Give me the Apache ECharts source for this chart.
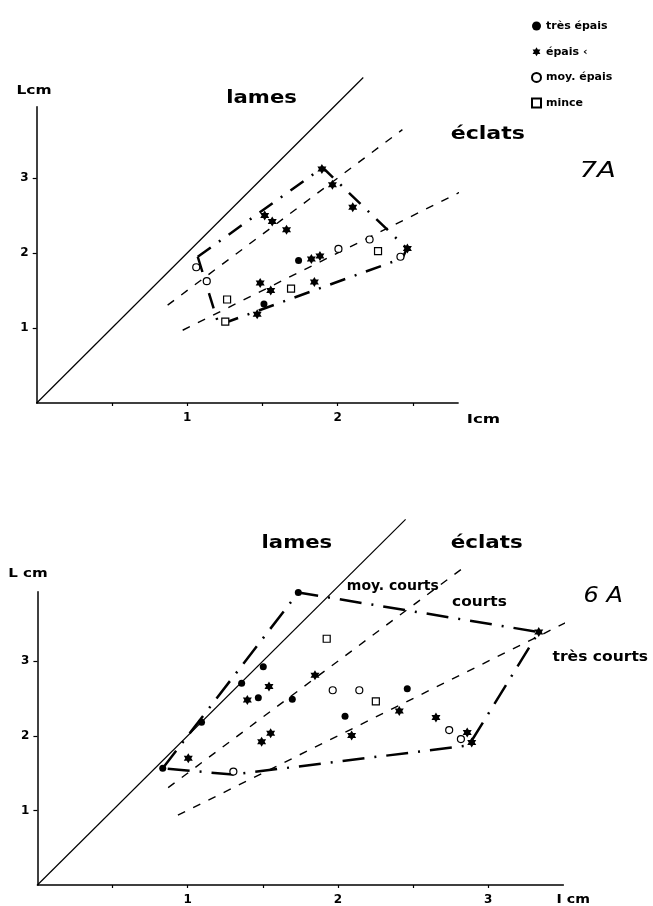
<!DOCTYPE html>
<html>
<head>
<meta charset="utf-8">
<script src="https://cdn.jsdelivr.net/npm/echarts@6/dist/echarts.min.js"></script>
<style>
  html, body { margin: 0; padding: 0; background: #fff; }
  #chart { width: 653px; height: 906px; }
</style>
</head>
<body>
<div id="chart"></div>
<script>
// classes d'epaisseur (legende)
const classNames = ['très épais', 'épais ‹', 'moy. épais', 'mince'];

// 7A : l (cm) / L (cm)
const veryThick7A = [[1.74, 1.90], [1.51, 1.32]];
const thick7A = [
  [1.895, 3.12], [1.965, 2.91], [2.10, 2.61], [2.463, 2.06], [1.515, 2.50],
  [1.565, 2.42], [1.66, 2.31], [1.825, 1.92], [1.882, 1.96], [1.485, 1.60],
  [1.555, 1.50], [1.845, 1.615], [1.465, 1.185],
];
const medium7A = [[1.06, 1.81], [1.13, 1.625], [2.005, 2.055], [2.212, 2.18], [2.417, 1.95]];
const thin7A = [[1.265, 1.38], [1.253, 1.085], [1.69, 1.525], [2.268, 2.025]];
const blades7A = [[0, 0], [2.17, 4.34]];
const ratio15_7A = [[0.87, 1.305], [2.43, 3.645]];
const ratio1_7A = [[0.97, 0.97], [2.89, 2.89]];
const envelope7A = [[1.07, 1.95], [1.90, 3.14], [2.46, 2.06], [2.43, 1.93], [1.21, 1.04], [1.07, 1.95]];

// 6A
const veryThick6A = [
  [1.736, 3.92], [1.503, 2.925], [1.359, 2.703], [1.47, 2.51], [1.696, 2.49],
  [1.092, 2.18], [0.834, 1.565], [2.047, 2.26], [2.461, 2.63],
];
const thick6A = [
  [3.336, 3.39], [1.847, 2.81], [1.541, 2.66], [1.397, 2.48], [2.408, 2.333],
  [2.652, 2.245], [1.552, 2.033], [1.492, 1.92], [2.091, 2.005], [2.86, 2.045],
  [2.89, 1.91], [1.004, 1.70],
];
const medium6A = [[1.965, 2.61], [2.142, 2.61], [2.74, 2.076], [2.818, 1.956], [1.304, 1.52]];
const thin6A = [[1.925, 3.30], [2.252, 2.46]];
const blades6A = [[0, 0], [2.45, 4.9]];
const ratio15_6A = [[0.87, 1.305], [2.82, 4.23]];
const ratio1_6A = [[0.935, 0.935], [3.54, 3.54]];
const envelope6A = [[0.834, 1.565], [1.736, 3.92], [3.336, 3.39], [2.87, 1.87], [1.30, 1.48], [0.834, 1.565]];

// graduations
const xTicks7A = [0.5, 1, 1.5, 2, 2.5];
const xLabels7A = [1, 2];
const xTicks6A = [0.5, 1, 1.5, 2, 2.5, 3];
const xLabels6A = [1, 2, 3];
const yTicks = [1, 2, 3];

const FONT = 'DejaVu Sans';
const INK = '#000';
const STAR = 'path://M0,-10L2.9,-5L8.66,-5L5.8,0L8.66,5L2.9,5L0,10L-2.9,5L-8.66,5L-5.8,0L-8.66,-5L-2.9,-5Z';

const markerStyles = [
  { symbol: 'circle', symbolSize: 7, itemStyle: { color: INK, opacity: 1 } },
  { symbol: STAR, symbolSize: [9, 10], itemStyle: { color: INK, opacity: 1 } },
  { symbol: 'circle', symbolSize: 7, itemStyle: { color: '#fff', borderColor: INK, borderWidth: 1.2, opacity: 1 } },
  { symbol: 'rect', symbolSize: 7, itemStyle: { color: '#fff', borderColor: INK, borderWidth: 1.2, opacity: 1 } },
];

function getXAxis(gridIndex, max, ticks, labels) {
  return {
    type: 'value',
    gridIndex,
    min: 0,
    max,
    splitLine: { show: false },
    axisLine: { lineStyle: { color: INK, width: 1.5 } },
    axisTick: { customValues: ticks, length: 3, lineStyle: { color: INK, width: 1.2 } },
    axisLabel: {
      customValues: labels,
      margin: 9,
      color: INK,
      fontFamily: FONT,
      fontWeight: 'bold',
      fontSize: 12,
    },
  };
}

function getYAxis(gridIndex, max) {
  return {
    type: 'value',
    gridIndex,
    min: 0,
    max,
    splitLine: { show: false },
    axisLine: { lineStyle: { color: INK, width: 1.5 } },
    axisTick: { customValues: yTicks, length: 4, lineStyle: { color: INK, width: 1.2 } },
    axisLabel: {
      customValues: yTicks,
      margin: 8,
      color: INK,
      fontFamily: FONT,
      fontWeight: 'bold',
      fontSize: 12,
    },
  };
}

function getLine(data, gridIndex, width, type) {
  return {
    type: 'line',
    xAxisIndex: gridIndex,
    yAxisIndex: gridIndex,
    data,
    clip: false,
    silent: true,
    symbol: 'none',
    lineStyle: { color: INK, width, type },
  };
}

function getScatter(classIndex, data, gridIndex) {
  return {
    type: 'scatter',
    name: classNames[classIndex],
    xAxisIndex: gridIndex,
    yAxisIndex: gridIndex,
    data,
    z: 5,
    ...markerStyles[classIndex],
  };
}

function getText(text, x, y, size, scaleX, italic) {
  return {
    type: 'text',
    x,
    y,
    scaleX,
    silent: true,
    style: {
      text,
      fill: INK,
      fontFamily: FONT,
      fontSize: size,
      fontWeight: italic ? 'normal' : 'bold',
      fontStyle: italic ? 'italic' : 'normal',
      align: 'left',
      verticalAlign: 'middle',
    },
  };
}

const chart = echarts.init(document.getElementById('chart'), null, { renderer: 'canvas' });

chart.setOption({
  animation: false,
  backgroundColor: '#fff',
  grid: [
    { left: 36.7, top: 106.75, width: 421.4, height: 296.25 },
    { left: 37.4, top: 591.75, width: 526, height: 294.75 },
  ],
  xAxis: [getXAxis(0, 2.8, xTicks7A, xLabels7A), getXAxis(1, 3.5, xTicks6A, xLabels6A)],
  yAxis: [getYAxis(0, 3.95), getYAxis(1, 3.93)],
  legend: {
    data: classNames,
    orient: 'vertical',
    left: 526,
    top: 15.5,
    itemWidth: 9,
    itemHeight: 9,
    itemGap: 14.7,
    selectedMode: false,
    textStyle: { color: INK, fontFamily: FONT, fontSize: 11, fontWeight: 'bold' },
  },
  graphic: [
    // 7A
    getText('Lcm', 16.5, 91, 13, 1.19),
    getText('lames', 226.3, 98.3, 17, 1.245),
    getText('éclats', 450.7, 135, 17, 1.3),
    getText('7A', 579.5, 171.7, 22, 1.25, true),
    getText('Icm', 466.7, 420, 13, 1.28),
    // 6A
    getText('L cm', 8.2, 573.3, 13, 1.16),
    getText('lames', 261.6, 544, 17, 1.245),
    getText('éclats', 450.7, 543.3, 17, 1.26),
    getText('moy. courts', 346.8, 586, 14, 1.0),
    getText('courts', 452, 602.7, 14, 1.1),
    getText('6 A', 583.6, 596.7, 22, 1.09, true),
    getText('très courts', 552.5, 657.3, 14, 1.11),
    getText('I cm', 556.6, 900, 13, 1.09),
  ],
  series: [
    getLine(blades7A, 0, 1.2, 'solid'),
    getLine(ratio15_7A, 0, 1.4, [8, 9]),
    getLine(ratio1_7A, 0, 1.4, [8, 9]),
    getLine(envelope7A, 0, 2.5, [16, 10, 2, 10]),
    getScatter(0, veryThick7A, 0),
    getScatter(1, thick7A, 0),
    getScatter(2, medium7A, 0),
    getScatter(3, thin7A, 0),
    getLine(blades6A, 1, 1.2, 'solid'),
    getLine(ratio15_6A, 1, 1.4, [8, 9]),
    getLine(ratio1_6A, 1, 1.4, [8, 9]),
    getLine(envelope6A, 1, 2.5, [22, 10, 2, 10]),
    getScatter(0, veryThick6A, 1),
    getScatter(1, thick6A, 1),
    getScatter(2, medium6A, 1),
    getScatter(3, thin6A, 1),
  ],
});
</script>
</body>
</html>
